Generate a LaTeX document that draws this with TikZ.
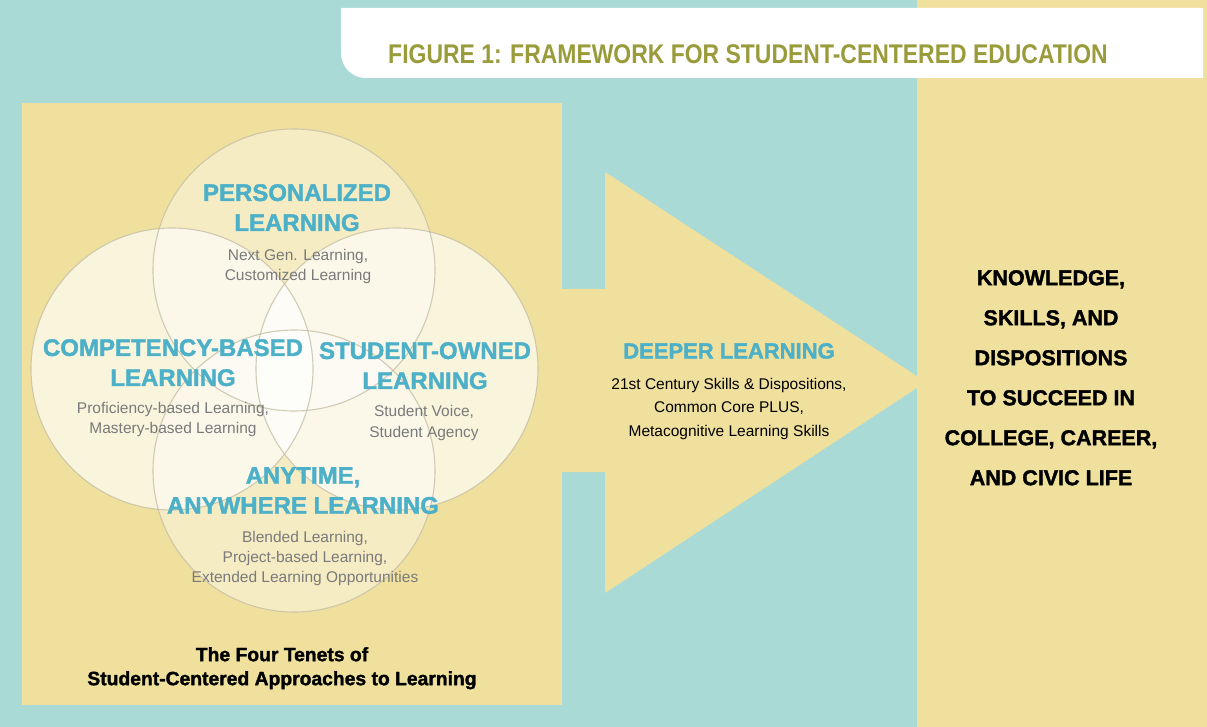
\documentclass[tikz,border=0pt]{standalone}
\usepackage{fontspec}
\setmainfont{Liberation Sans}
\newfontfamily\heavy{Liberation Sans Bold}[FakeBold=1.6]
\newfontfamily\titlefont{Liberation Sans Bold}[FakeStretch=0.85]
\definecolor{teal}{HTML}{A9DAD6}
\definecolor{sand}{HTML}{F0E09D}
\definecolor{olive}{HTML}{9A9B3B}
\definecolor{hblue}{HTML}{4BB0C8}
\definecolor{sgray}{HTML}{7A7A7A}
\definecolor{ring}{HTML}{C6BFA6}
\tikzset{
  head/.style={font=\heavy\fontsize{24}{30}\selectfont, text=hblue, align=center, inner sep=0pt, anchor=north},
  sub/.style={font=\fontsize{15.5}{20}\selectfont, text=sgray, align=center, inner sep=0pt, anchor=north},
  dark/.style={font=\fontsize{15.5}{23.5}\selectfont, text=black, align=center, inner sep=0pt, anchor=north},
  outcome/.style={font=\heavy\fontsize{21.5}{40}\selectfont, text=black, align=center, inner sep=0pt, anchor=north},
  caption/.style={font=\heavy\fontsize{19.3}{24}\selectfont, text=black, align=center, inner sep=0pt, anchor=north},
  tenet/.style={fill=white, fill opacity=#1},
  ringline/.style={draw=ring, line width=1.1pt, draw opacity=0.8}
}
\begin{document}
\begin{tikzpicture}[x=1pt,y=-1pt]
\useasboundingbox (0,0) rectangle (1207,727);
% background
\fill[teal] (0,0) rectangle (1207,727);
\fill[sand] (917,0) rectangle (1207,727);
% title banner
\fill[white] (341,8) -- (1203,8) -- (1203,78) -- (366,78) .. controls (352,78) and (341,67) .. (341,53) -- cycle;
\node[font=\titlefont\fontsize{27}{30}\selectfont, text=olive, inner sep=0pt] (title) at (748,54) {FIGURE 1: FRAMEWORK FOR STUDENT-CENTERED EDUCATION};
% left panel
\fill[sand] (22,103) rectangle (562,705);
% arrow
\fill[sand] (561,289) -- (605,289) -- (605,172) -- (926,382) -- (605,593) -- (605,472) -- (561,472) -- cycle;
% circles
\fill[tenet=0.4] (294,270) circle[radius=141];
\fill[tenet=0.4] (294,471) circle[radius=141];
\fill[tenet=0.65] (172,369) circle[radius=141];
\fill[tenet=0.65] (397,369) circle[radius=141];
\draw[ringline] (294,270) circle[radius=141];
\draw[ringline] (294,471) circle[radius=141];
\draw[ringline] (172,369) circle[radius=141];
\draw[ringline] (397,369) circle[radius=141];
% texts of the tenets
\node[head] (pers) at (297,184) {PERSONALIZED\\LEARNING};
\node[sub] (perssub) at (298,249) {Next Gen. Learning,\\Customized Learning};
\node[head] (comp) at (173,339) {COMPETENCY-BASED\\LEARNING};
\node[sub] (compsub) at (173,402) {Proficiency-based Learning,\\Mastery-based Learning};
\node[head] (own) at (425,342) {STUDENT-OWNED\\LEARNING};
\node[sub, font=\fontsize{15.5}{21.5}\selectfont] (ownsub) at (424,405) {Student Voice,\\Student Agency};
\node[head] (any) at (303,467) {ANYTIME,\\ANYWHERE LEARNING};
\node[sub] (anysub) at (305,531) {Blended Learning,\\Project-based Learning,\\Extended Learning Opportunities};
\node[caption] (cap) at (282,647) {The Four Tenets of\\Student-Centered Approaches to Learning};
% deeper learning
\node[head, font=\heavy\fontsize{22}{26}\selectfont] (deep) at (729,343) {DEEPER LEARNING};
\node[dark] (deepsub) at (729,378) {21st Century Skills \& Dispositions,\\Common Core PLUS,\\Metacognitive Learning Skills};
% outcome
\node[outcome] (goal) at (1051,270) {KNOWLEDGE,\\SKILLS, AND\\DISPOSITIONS\\TO SUCCEED IN\\COLLEGE, CAREER,\\AND CIVIC LIFE};
\end{tikzpicture}
\end{document}
